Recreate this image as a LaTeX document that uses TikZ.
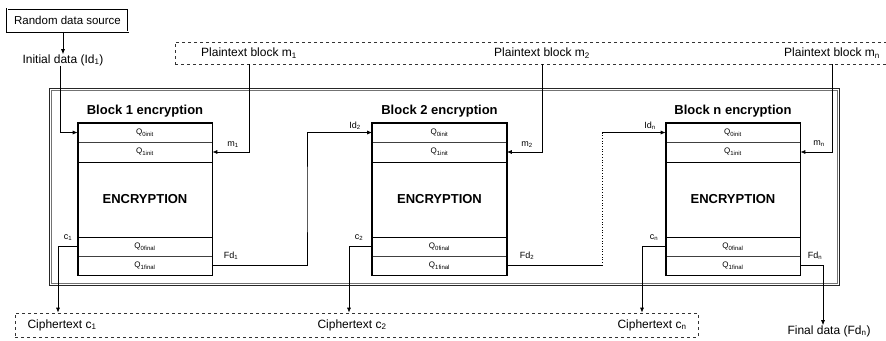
\documentclass[tikz,border=0pt]{standalone}
\usepackage{fontspec}
\setmainfont{Liberation Sans}
\usetikzlibrary{arrows.meta}
\newcommand{\encblk}[3]{%
  \node[cellrow, minimum height=19pt] (#1a) at (#2,132.5) {Q\textsubscript{0init}};
  \node[cellrow, minimum height=20pt] (#1b) at (#2,152) {Q\textsubscript{1init}};
  \node[cellrow, minimum height=75pt, font=\fontsize{13}{13}\selectfont\bfseries] (#1c) at (#2,199.5) {ENCRYPTION};
  \node[cellrow, minimum height=19pt] (#1d) at (#2,246.5) {Q\textsubscript{0final}};
  \node[cellrow, minimum height=19pt] (#1e) at (#2,265.5) {Q\textsubscript{1final}};
  \draw[line width=1.6pt] (#1a.north west) rectangle (#1e.south east);
  \draw[line width=1.6pt] (#1b.south west) -- (#1b.south east);
  \draw[line width=1.6pt] (#1c.south west) -- (#1c.south east);
  \node[titlelbl] (#1t) at (#2,111) {#3};
}
\begin{document}
\begin{tikzpicture}[x=1pt,y=-1pt,
  lbl/.style={font=\fontsize{12}{12}\selectfont, inner sep=0},
  titlelbl/.style={font=\fontsize{13}{13}\selectfont\bfseries, inner sep=0},
  small/.style={font=\fontsize{9}{9}\selectfont, inner sep=0},
  cellrow/.style={draw=black!75, line width=0.6pt, minimum width=134pt, inner sep=0, font=\fontsize{8}{8}\selectfont},
  arr/.style={-{Latex[length=5pt,width=4pt]}, line width=0.7pt},
  conn/.style={line width=0.7pt},
  dbox/.style={draw=black!80, dashed, line width=0.7pt, inner sep=0},
  framebox/.style={draw=black!85, line width=0.8pt, inner sep=0}]
\useasboundingbox (0,0) rectangle (886,340);

% outer frame (two close lines)
\node[framebox, minimum width=790pt, minimum height=197pt] (frm) at (444,186.5) {};
\node[framebox, draw=black!55, line width=0.6pt, minimum width=786pt, minimum height=193pt] (frmin) at (444,186.5) {};

% top source
\node[draw, double, double distance=0.8pt, line width=0.6pt, minimum width=121pt, minimum height=23pt, inner sep=0, font=\fontsize{11.5}{12}\selectfont] (src) at (67.5,20) {Random data source};
\node[lbl] (init) at (63,60) {Initial data (Id\textsubscript{1})};

% plaintext box
\node[dbox, minimum width=735pt, minimum height=22pt] (ptbox) at (542.5,53) {};
\node[lbl] (pt1) at (249,53) {Plaintext block m\textsubscript{1}};
\node[lbl] (pt2) at (542,53) {Plaintext block m\textsubscript{2}};
\node[lbl] (ptn) at (832,53) {Plaintext block m\textsubscript{n}};

% blocks
\encblk{b1}{145}{Block 1 encryption}
\encblk{b2}{439.5}{Block 2 encryption}
\encblk{bn}{733}{Block n encryption}

% ciphertext box
\node[dbox, minimum width=683pt, minimum height=24pt] (ctbox) at (356.5,325) {};
\node[lbl] (ct1) at (62,325) {Ciphertext c\textsubscript{1}};
\node[lbl] (ct2) at (352,325) {Ciphertext c\textsubscript{2}};
\node[lbl] (ctn) at (652,325) {Ciphertext c\textsubscript{n}};
\node[lbl] (fin) at (829,331) {Final data (Fd\textsubscript{n})};

% small labels
\node[small] (id2) at (355,126) {Id\textsubscript{2}};
\node[small] (idn) at (650,126) {Id\textsubscript{n}};
\node[small] (m1) at (233,145) {m\textsubscript{1}};
\node[small] (m2) at (527,145) {m\textsubscript{2}};
\node[small] (mn) at (819,144) {m\textsubscript{n}};
\node[small] (c1) at (68,238) {c\textsubscript{1}};
\node[small] (c2) at (359,238) {c\textsubscript{2}};
\node[small] (cn) at (654,238) {c\textsubscript{n}};
\node[small] (fd1) at (231,256) {Fd\textsubscript{1}};
\node[small] (fd2) at (527,256) {Fd\textsubscript{2}};
\node[small] (fdn) at (815,256) {Fd\textsubscript{n}};

% helper coordinates
\coordinate (cx1) at (58,0);
\coordinate (cx2) at (349,0);
\coordinate (cxn) at (642,0);
\coordinate (fx) at (823,0);
\coordinate (j1) at (307,200);
\coordinate (j2b) at (602,265.5);
\coordinate (j2t) at (602,132.5);

% connectors
\draw[arr] (src.south -| init.north) -- (init.north);
\draw[arr] (init.south -| 60,0) |- (b1a.west);
\draw[arr] (pt1 |- ptbox.south) |- (b1b.east);
\draw[arr] (pt2 |- ptbox.south) |- (b2b.east);
\draw[arr] (ptn |- ptbox.south) |- (bnb.east);
\draw[arr] (b1d.west) -| (cx1 |- ctbox.north);
\draw[arr] (b2d.west) -| (cx2 |- ctbox.north);
\draw[arr] (bnd.west) -| (cxn |- ctbox.north);
\draw[arr] (b1e.east) -| (j1) |- (b2a.west);
\draw[conn] (b2e.east) -- (j2b);
\draw[conn, dotted] (j2b) -- (j2t);
\draw[arr] (j2t) -- (bna.west);
\draw[arr] (bne.east) -| (fx |- fin.north);
\end{tikzpicture}
\end{document}
